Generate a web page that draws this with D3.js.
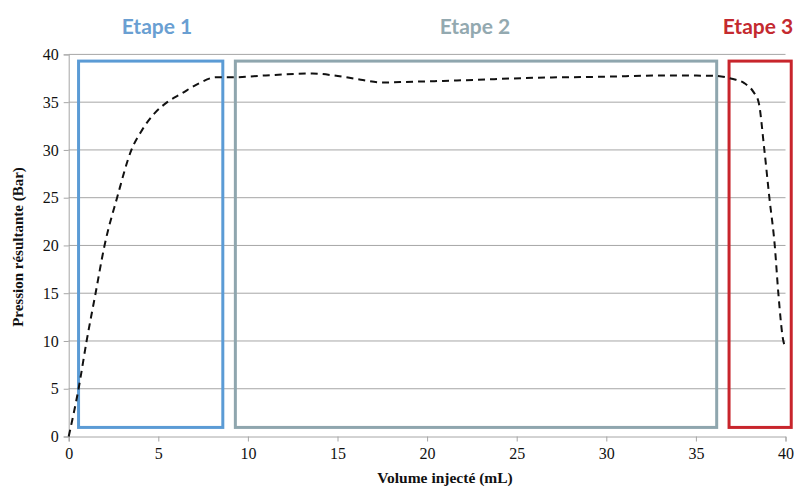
<!DOCTYPE html>
<html><head><meta charset="utf-8">
<script src="https://cdn.jsdelivr.net/npm/d3@7"></script>
<style>body{margin:0;background:#fff}svg{display:block}</style>
</head><body>
<svg id="c" width="794" height="488"></svg>
<script>
// Data
const volume = [0, 0.55, 1.0, 1.5, 2.0, 2.7, 3.5, 4.1, 4.8, 5.5, 6.3, 7.3, 8.2, 9.2, 11, 13.6, 14.8, 16.3, 17.5, 18.5, 22.2, 25.9, 29.6, 33.4, 36.1, 37.0, 37.7, 38.2, 38.5, 38.82, 39.1, 39.4, 39.6, 39.88, 40];
const pression = [0, 5, 10, 15, 20, 25, 30, 32.1, 33.85, 35, 35.9, 37.0, 37.6, 37.6, 37.8, 38.0, 37.8, 37.35, 37.05, 37.1, 37.3, 37.55, 37.65, 37.8, 37.75, 37.45, 37.0, 36.1, 35.0, 30, 25, 20, 15, 10, 9.4];
const xTicks = [0, 5, 10, 15, 20, 25, 30, 35, 40];
const yTicks = [0, 5, 10, 15, 20, 25, 30, 35, 40];
const stageNames = ["Etape 1", "Etape 2", "Etape 3"];
const stageStart = [0.55, 9.3, 36.85];
const stageEnd = [8.6, 36.16, 40.32];
const stageTop = [39.3, 39.3, 39.3];
const stageBottom = [0.95, 0.95, 0.95];
const stageColors = ["#5b9bd5", "#8fa6ae", "#c8252c"];
const labelColors = ["#6a9fd2", "#93a9b0", "#c42a2f"];
const labelX = [157, 475, 758];

const svg = d3.select("#c");
const x = d3.scaleLinear().domain([0, 40]).range([68.7, 785.5]);
const y = d3.scaleLinear().domain([0, 40]).range([436.5, 54.4]);

// gridlines
svg.append("g").selectAll("line").data(yTicks.filter(d => d > 0)).join("line")
  .attr("x1", x(0)).attr("x2", x(40))
  .attr("y1", d => y(d)).attr("y2", d => y(d))
  .attr("stroke", "#a6a6a6").attr("stroke-width", 1);

// y axis
const ya = svg.append("g").attr("transform", `translate(${x(0)},0)`)
  .call(d3.axisLeft(y).tickValues(yTicks).tickSize(5).tickPadding(5));
ya.attr("font-family", "'Liberation Serif', serif").attr("font-size", 16);
ya.select(".domain").attr("stroke", "#a6a6a6");
ya.selectAll(".tick line").attr("stroke", "#a6a6a6");
ya.selectAll("text").style("font-family", "'Liberation Serif', serif").style("font-size", "16px").attr("fill", "#111");

// x axis
const xa = svg.append("g").attr("transform", `translate(0,${y(0)})`)
  .call(d3.axisBottom(x).tickValues(xTicks).tickSize(5).tickPadding(6));
xa.attr("font-family", "'Liberation Serif', serif").attr("font-size", 16);
xa.select(".domain").attr("stroke", "#a6a6a6");
xa.selectAll(".tick line").attr("stroke", "#a6a6a6");
xa.selectAll("text").style("font-family", "'Liberation Serif', serif").style("font-size", "16px").attr("fill", "#111");

// stage boxes
svg.append("g").selectAll("rect").data(stageNames).join("rect")
  .attr("x", (d, i) => x(stageStart[i]))
  .attr("y", (d, i) => y(stageTop[i]))
  .attr("width", (d, i) => x(stageEnd[i]) - x(stageStart[i]))
  .attr("height", (d, i) => y(stageBottom[i]) - y(stageTop[i]))
  .attr("fill", "none")
  .attr("stroke", (d, i) => stageColors[i])
  .attr("stroke-width", 3);

svg.append("g").selectAll("text").data(stageNames).join("text")
  .attr("x", (d, i) => labelX[i]).attr("y", 34)
  .attr("text-anchor", "middle")
  .style("font-family", "Lato").style("font-weight", "bold").style("font-size", "21px")
  .attr("fill", (d, i) => labelColors[i])
  .text(d => d);

// curve
const pts = volume.map((v, i) => [v, pression[i]]);
svg.append("path").datum(pts)
  .attr("d", d3.line().x(d => x(d[0])).y(d => y(d[1])).curve(d3.curveMonotoneX))
  .attr("fill", "none").attr("stroke", "#111").attr("stroke-width", 2)
  .attr("stroke-dasharray", "7,5");

// axis titles
svg.append("text").attr("x", 445).attr("y", 483)
  .attr("text-anchor", "middle")
  .style("font-family", "'Liberation Serif', serif").style("font-weight", "bold").style("font-size", "15.5px")
  .attr("fill", "#111")
  .text("Volume  injecté  (mL)");
svg.append("text").attr("transform", "translate(23,247) rotate(-90)")
  .attr("text-anchor", "middle")
  .style("font-family", "'Liberation Serif', serif").style("font-weight", "bold").style("font-size", "15px")
  .attr("fill", "#111")
  .text("Pression résultante  (Bar)");
</script>
</body></html>
